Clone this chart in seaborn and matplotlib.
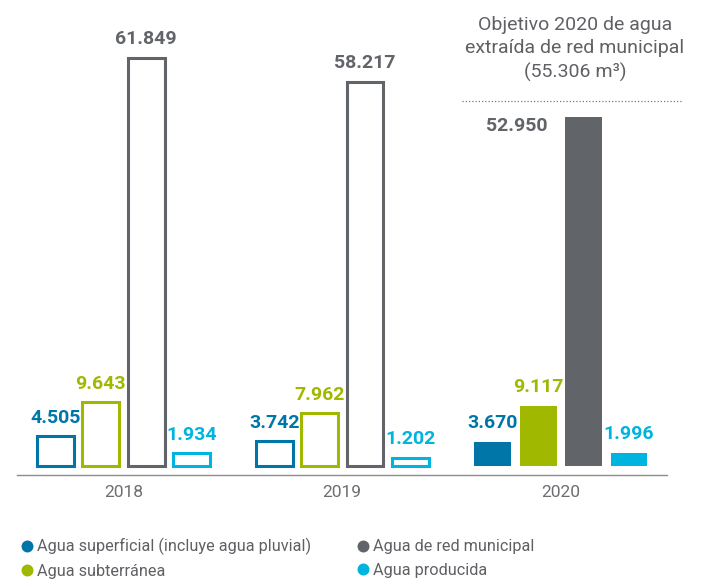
import matplotlib
matplotlib.use("Agg")
import matplotlib.pyplot as plt
from matplotlib.lines import Line2D
import seaborn as sns
import pandas as pd

# Water withdrawal by source (m³)
years = ["2018", "2019", "2020"]
sources = [
    "Agua superficial (incluye agua pluvial)",
    "Agua subterránea",
    "Agua de red municipal",
    "Agua producida",
]
superficial = [4505, 3742, 3670]
subterranea = [9643, 7962, 9117]
red_municipal = [61849, 58217, 52950]
producida = [1934, 1202, 1996]
objetivo_2020 = 55306
palette = ["#0076a8", "#a0b800", "#616469", "#00b4e0"]

sns.set_style("white")
plt.rcParams["font.family"] = ["Roboto", "DejaVu Sans"]

TEXT_GRAY = "#5f6064"

df = pd.DataFrame({
    "year": years * 4,
    "source": [s for s in sources for _ in years],
    "value": superficial + subterranea + red_municipal + producida,
})

fig = plt.figure(figsize=(7.1, 5.82), dpi=100)
ax = fig.add_axes([17 / 710, 107 / 582, 650 / 710, 475 / 582])

sns.barplot(data=df, x="year", y="value", hue="source", order=years,
            hue_order=sources, palette=palette, width=0.83, gap=0.19,
            saturation=1, legend=False, ax=ax, err_kws={"linewidth": 0})

ax.set_xlim(-0.487, 2.485)
ax.set_ylim(-1364, 70606)

series_values = [superficial, subterranea, red_municipal, producida]
for container, color, vals in zip(ax.containers, palette, series_values):
    for i, (bar, v) in enumerate(zip(container, vals)):
        if years[i] != "2020":
            bar.set_facecolor("white")
            bar.set_edgecolor(color)
            bar.set_linewidth(2.2)
        else:
            bar.set_facecolor(color)
            bar.set_edgecolor("none")
        label = f"{v:,}".replace(",", ".")
        cx = bar.get_x() + bar.get_width() / 2
        if years[i] == "2020" and v > objetivo_2020 * 0.9:
            # keep the label clear of the target line
            ax.annotate(label, xy=(bar.get_x(), v), xytext=(-13, 0),
                        textcoords="offset points", ha="right", va="top",
                        fontsize=14, fontweight="bold", color=color)
        else:
            ax.annotate(label, xy=(cx, v), xytext=(0, 7),
                        textcoords="offset points", ha="center", va="bottom",
                        fontsize=14, fontweight="bold", color=color)

# 2020 target for municipal network water
ax.plot([1.547, 2.557], [objetivo_2020, objetivo_2020], color="#7a7a7a",
        linewidth=0.9, linestyle=(0, (1, 1.6)), clip_on=False)
ax.annotate("Objetivo 2020 de agua\nextraída de red municipal\n(55.306 m³)",
            xy=(2.064, objetivo_2020), xytext=(0, 14),
            textcoords="offset points", ha="center", va="bottom",
            fontsize=14, color=TEXT_GRAY, linespacing=1.35)

for side in ["top", "right", "left"]:
    ax.spines[side].set_visible(False)
ax.spines["bottom"].set_color("#8c8c8c")
ax.spines["bottom"].set_linewidth(1.0)
ax.set_xlabel("")
ax.set_ylabel("")
ax.set_yticks([])
ax.tick_params(axis="x", length=0, pad=7, labelsize=12.5, labelcolor="#6d6e71")

handles = [Line2D([], [], linestyle="none", marker="o", markersize=8.6,
                  markerfacecolor=c, markeredgecolor="none") for c in palette]
fig.legend(handles, sources, loc="upper left", bbox_to_anchor=(0.0289, 0.076),
           ncol=2, frameon=False, fontsize=11.7, labelcolor=TEXT_GRAY,
           handlelength=0.8, handletextpad=0.2, columnspacing=2.8,
           labelspacing=0.55, borderpad=0, borderaxespad=0)

fig.savefig("out.png", dpi=100)
